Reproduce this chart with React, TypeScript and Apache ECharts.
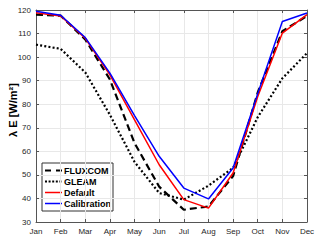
import React, { useEffect, useRef } from "react";
import * as echarts from "echarts";

const months = ["Jan", "Feb", "Mar", "Apr", "May", "Jun", "Jul", "Aug", "Sep", "Oct", "Nov", "Dec"];
const fluxcom = [118.0, 117.6, 107.5, 90.5, 63.5, 45.0, 35.2, 36.6, 49.5, 85.0, 111.0, 117.5];
const gleam = [105.3, 103.5, 93.5, 75.5, 55.5, 42.3, 39.5, 45.4, 53.0, 74.5, 91.0, 101.7];
const defaultRun = [118.8, 117.5, 108.0, 92.5, 73.4, 54.3, 39.5, 35.9, 50.8, 83.3, 110.2, 118.0];
const calibration = [119.5, 117.8, 108.3, 93.2, 75.2, 57.9, 44.4, 39.8, 52.9, 84.5, 115.1, 118.7];
const seriesNames = ["FLUXCOM", "GLEAM", "Default", "Calibration"];
const yAxisTitle = "λ E [W/m²]";

const FONT = "Liberation Sans, Arial, sans-serif";

export default function App() {
  const ref = useRef<HTMLDivElement>(null);
  useEffect(() => {
    if (!ref.current) return;
    const chart = echarts.init(ref.current, undefined, { renderer: "svg" });
    const axisLineColor = "#555";
    const tickLabel = { color: "#262626", fontSize: 8, fontFamily: FONT };
    const styles = [
      { color: "#000", width: 2.2, dash: [7, 4] as number[] | null, legendDash: [6, 5] as number[] | null },
      { color: "#000", width: 2.2, dash: [2, 2.2], legendDash: [2, 1.6] },
      { color: "#ff0000", width: 1.5, dash: null, legendDash: null },
      { color: "#0000ff", width: 1.5, dash: null, legendDash: null },
    ];
    const dataSets = [fluxcom, gleam, defaultRun, calibration];
    const legendX = 42;
    const legendY = 163;
    const rowH = 11;
    const legendChildren: any[] = [
      {
        type: "rect",
        shape: { x: legendX, y: legendY, width: 71, height: 48 },
        style: { fill: "#fff", stroke: "#333", lineWidth: 1 },
      },
    ];
    seriesNames.forEach((name, i) => {
      const cy = legendY + 7.5 + i * rowH;
      const s = styles[i];
      legendChildren.push({
        type: "line",
        shape: { x1: legendX + 3, y1: cy, x2: legendX + 20, y2: cy },
        style: { stroke: s.color, lineWidth: s.width, lineDash: s.legendDash || undefined },
      });
      legendChildren.push({
        type: "text",
        x: legendX + 22,
        y: cy,
        style: {
          text: name,
          fontSize: 9,
          fontWeight: "bold",
          fontFamily: FONT,
          fill: "#000",
          align: "left",
          verticalAlign: "middle",
        },
      });
    });
    chart.setOption({
      animation: false,
      grid: { left: 36, right: 13, top: 10, bottom: 19, containLabel: false },
      graphic: [
        {
          type: "text",
          x: 13,
          y: 110,
          rotation: Math.PI / 2,
          style: {
            text: yAxisTitle,
            fontSize: 11,
            fontWeight: "bold",
            fontFamily: FONT,
            fill: "#000",
            align: "center",
            verticalAlign: "middle",
          },
        },
        { type: "group", z: 100, children: legendChildren },
      ],
      xAxis: [
        {
          type: "category",
          data: months,
          boundaryGap: false,
          axisLine: { lineStyle: { color: axisLineColor, width: 1 } },
          axisTick: { inside: true, length: 3, lineStyle: { color: axisLineColor } },
          axisLabel: { ...tickLabel, margin: 5 },
          splitLine: { show: true, lineStyle: { color: "#e8e8e8", width: 1 } },
        },
        {
          type: "category",
          data: months,
          boundaryGap: false,
          position: "top",
          axisLine: { lineStyle: { color: axisLineColor, width: 1 } },
          axisTick: { inside: true, length: 3, lineStyle: { color: axisLineColor } },
          axisLabel: { show: false },
          splitLine: { show: false },
        },
      ],
      yAxis: [
        {
          type: "value",
          min: 30,
          max: 120,
          interval: 10,
          axisLine: { show: true, lineStyle: { color: axisLineColor, width: 1 } },
          axisTick: { show: true, inside: true, length: 3, lineStyle: { color: axisLineColor } },
          axisLabel: { ...tickLabel, margin: 5 },
          splitLine: { show: true, lineStyle: { color: "#e8e8e8", width: 1 } },
        },
        {
          type: "value",
          min: 30,
          max: 120,
          interval: 10,
          position: "right",
          axisLine: { show: true, lineStyle: { color: axisLineColor, width: 1 } },
          axisTick: { show: true, inside: true, length: 3, lineStyle: { color: axisLineColor } },
          axisLabel: { show: false },
          splitLine: { show: false },
        },
      ],
      series: seriesNames.map((name, i) => ({
        name,
        type: "line",
        data: dataSets[i],
        symbol: "none",
        itemStyle: { color: styles[i].color },
        lineStyle: {
          color: styles[i].color,
          width: styles[i].width,
          type: styles[i].dash || "solid",
        },
        z: i === 1 ? 2 : i === 0 ? 3 : 2 + i,
      })),
    });
    return () => chart.dispose();
  }, []);
  return (
    <div
      ref={ref}
      style={{ position: "fixed", left: 0, top: 0, width: 320, height: 241, background: "#fff" }}
    />
  );
}
